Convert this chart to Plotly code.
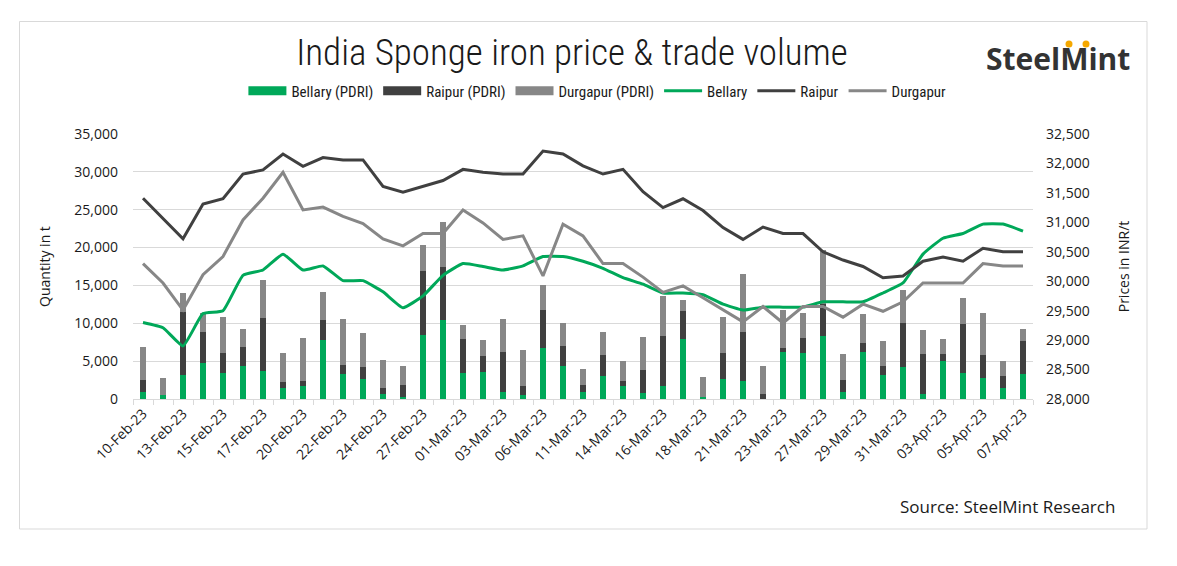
import plotly.graph_objects as go

dates = ["10-Feb-23", "11-Feb-23", "13-Feb-23", "14-Feb-23", "15-Feb-23", "16-Feb-23",
         "17-Feb-23", "18-Feb-23", "20-Feb-23", "21-Feb-23", "22-Feb-23", "23-Feb-23",
         "24-Feb-23", "25-Feb-23", "27-Feb-23", "28-Feb-23", "01-Mar-23", "02-Mar-23",
         "03-Mar-23", "04-Mar-23", "06-Mar-23", "10-Mar-23", "11-Mar-23", "13-Mar-23",
         "14-Mar-23", "15-Mar-23", "16-Mar-23", "17-Mar-23", "18-Mar-23", "20-Mar-23",
         "21-Mar-23", "22-Mar-23", "23-Mar-23", "24-Mar-23", "27-Mar-23", "28-Mar-23",
         "29-Mar-23", "30-Mar-23", "31-Mar-23", "01-Apr-23", "03-Apr-23", "04-Apr-23",
         "05-Apr-23", "06-Apr-23", "07-Apr-23"]

bellary_qty = [900, 500, 3200, 4700, 3500, 4400, 3700, 1450, 1700, 7800, 3300, 2650,
               650, 250, 8450, 10400, 3450, 3550, 900, 500, 6750, 4350, 900, 3050,
               1700, 800, 1700, 7900, 250, 2650, 2400, 0, 6200, 6050, 8300, 900,
               6200, 3150, 4250, 650, 5000, 3450, 2800, 1450, 3300]
raipur_qty = [1600, 0, 8300, 4100, 2600, 2500, 7000, 800, 700, 2600, 1200, 1600,
              800, 1600, 8450, 7100, 4450, 2100, 5300, 1200, 5000, 2650, 950, 2750,
              700, 3050, 6600, 3700, 0, 3450, 6450, 650, 550, 2000, 4250, 1600,
              1200, 1200, 5800, 5300, 950, 6450, 3000, 1600, 4350]
durgapur_qty = [4400, 2300, 2500, 2500, 4700, 2350, 5000, 3850, 5700, 3700, 6100, 4500,
                3700, 2500, 3450, 5900, 1850, 2100, 4350, 4750, 3300, 3050, 2100, 3050,
                2650, 4350, 5300, 1450, 2650, 4750, 7650, 3700, 5000, 3300, 7150, 3450,
                3850, 3300, 4350, 3150, 2000, 3450, 5550, 2000, 1600]

bellary_price = [29300, 29210, 28900, 29450, 29500, 30100, 30190, 30460, 30190, 30260,
                 30010, 30010, 29820, 29550, 29750, 30100, 30300, 30250, 30190, 30260,
                 30420, 30420, 30340, 30220, 30060, 29950, 29800, 29800, 29770, 29610,
                 29510, 29560, 29560, 29560, 29650, 29650, 29650, 29800, 29970, 30460,
                 30730, 30810, 30970, 30970, 30850]
raipur_price = [31410, 31060, 30720, 31310, 31400, 31820, 31890, 32160, 31950, 32100,
                32060, 32060, 31610, 31510, 31610, 31710, 31900, 31850, 31820, 31820,
                32210, 32160, 31960, 31820, 31900, 31520, 31250, 31400, 31200, 30910,
                30710, 30920, 30810, 30810, 30500, 30360, 30250, 30060, 30090, 30340,
                30410, 30340, 30560, 30500, 30500]
durgapur_price = [30300, 29970, 29510, 30110, 30420, 31040, 31410, 31850, 31210, 31260,
                  31100, 30980, 30720, 30600, 30810, 30810, 31210, 30990, 30710, 30770,
                  30090, 30970, 30770, 30300, 30300, 30070, 29810, 29920, 29720, 29520,
                  29310, 29570, 29290, 29570, 29570, 29390, 29610, 29490, 29650, 29970,
                  29970, 29970, 30300, 30260, 30260]

GREEN = "#00A859"
DARK = "#404040"
GRAY = "#878787"
TXT = "#1a1a1a"
TICKFONT = dict(family="Open Sans, Noto Sans, sans-serif", size=14, color=TXT)
NARROW = "Liberation Sans Narrow, Roboto Condensed, Liberation Sans, sans-serif"

fig = go.Figure()
bw = 0.33
bar_series = [("Bellary (PDRI)", bellary_qty, GREEN),
              ("Raipur (PDRI)", raipur_qty, DARK),
              ("Durgapur (PDRI)", durgapur_qty, GRAY)]
for name, vals, col in bar_series:
    fig.add_trace(go.Bar(x=dates, y=vals, name=name, marker_color=col, width=bw,
                         marker_line_width=0, legendgroup=name, showlegend=False))
# legend entries with wide rectangular swatches for the bar series
for name, vals, col in bar_series:
    fig.add_trace(go.Scatter(x=[None], y=[None], name=name, mode="lines",
                             line=dict(color=col, width=9), legendgroup=name))

fig.add_trace(go.Scatter(x=dates, y=bellary_price, name="Bellary", mode="lines",
                         line=dict(color=GREEN, width=3, shape="spline", smoothing=0.4),
                         yaxis="y2"))
fig.add_trace(go.Scatter(x=dates, y=raipur_price, name="Raipur", mode="lines",
                         line=dict(color=DARK, width=3), yaxis="y2"))
fig.add_trace(go.Scatter(x=dates, y=durgapur_price, name="Durgapur", mode="lines",
                         line=dict(color=GRAY, width=3), yaxis="y2"))

ticktext = [d if i % 2 == 0 else "" for i, d in enumerate(dates)]

fig.update_layout(
    width=1177, height=566,
    margin=dict(l=133, r=144, t=134, b=167),
    paper_bgcolor="white", plot_bgcolor="white",
    barmode="stack",
    title=dict(text="India Sponge iron price & trade volume",
               font=dict(family=NARROW, size=37, color=TXT, weight=300),
               x=0.486, xanchor="center", y=1 - 52 / 566, yanchor="middle", yref="container"),
    showlegend=True,
    legend=dict(orientation="h", x=0.516, xanchor="center", y=1.162, yanchor="middle",
                font=dict(family=NARROW, size=15, color=TXT),
                itemwidth=38, traceorder="normal", tracegroupgap=0),
    xaxis=dict(type="category", categoryorder="array", categoryarray=dates,
               range=[-0.5, len(dates) - 0.5],
               tickvals=dates, ticktext=ticktext, tickangle=-45,
               tickson="boundaries", ticks="outside", ticklen=5, tickcolor="#d9d9d9",
               showline=True, linecolor="#d9d9d9", linewidth=1,
               showgrid=False, tickfont=TICKFONT),
    yaxis=dict(range=[0, 35000], dtick=5000, tickformat=",", showgrid=True,
               gridcolor="#d9d9d9", gridwidth=1, zeroline=False, showline=False,
               tickfont=TICKFONT, ticks="", ticklabelstandoff=14,
               title=dict(text="Quantity in t", font=dict(family="Open Sans, sans-serif", size=14, color=TXT),
                          standoff=20)),
    yaxis2=dict(range=[28000, 32500], dtick=500, tickformat=",", overlaying="y", side="right",
                showgrid=False, zeroline=False, showline=False, tickfont=TICKFONT, ticks="",
                ticklabelstandoff=12,
                title=dict(text="Prices in INR/t", font=dict(family="Open Sans, sans-serif", size=14, color=TXT),
                           standoff=30)),
)

# outer border of the chart
px0, pw, py0, ph = 133, 900, 399, 265
def fx(p): return (p - px0) / pw
def fy(p): return (py0 - p) / ph
fig.add_shape(type="rect", xref="paper", yref="paper", x0=fx(19.5), x1=fx(1147), y0=fy(529), y1=fy(21.5),
              line=dict(color="#d9d9d9", width=1), fillcolor="rgba(0,0,0,0)", layer="below")

fig.add_annotation(text="Source: SteelMint Research", xref="paper", yref="paper",
                   x=fx(1117), y=fy(506), xanchor="right", yanchor="middle", showarrow=False,
                   font=dict(family="Open Sans, sans-serif", size=17, color=TXT))
fig.add_annotation(text="<b>SteelMint</b>", xref="paper", yref="paper",
                   x=fx(1058), y=fy(58), xanchor="center", yanchor="middle", showarrow=False,
                   font=dict(family="Open Sans, sans-serif", size=30, color="#333333"))
for cx in (1069, 1086):
    fig.add_shape(type="circle", xref="paper", yref="paper",
                  x0=fx(cx - 3.5), x1=fx(cx + 3.5), y0=fy(47.5), y1=fy(40.5),
                  fillcolor="#F5A800", line=dict(width=0))

fig.write_html("out.html")
